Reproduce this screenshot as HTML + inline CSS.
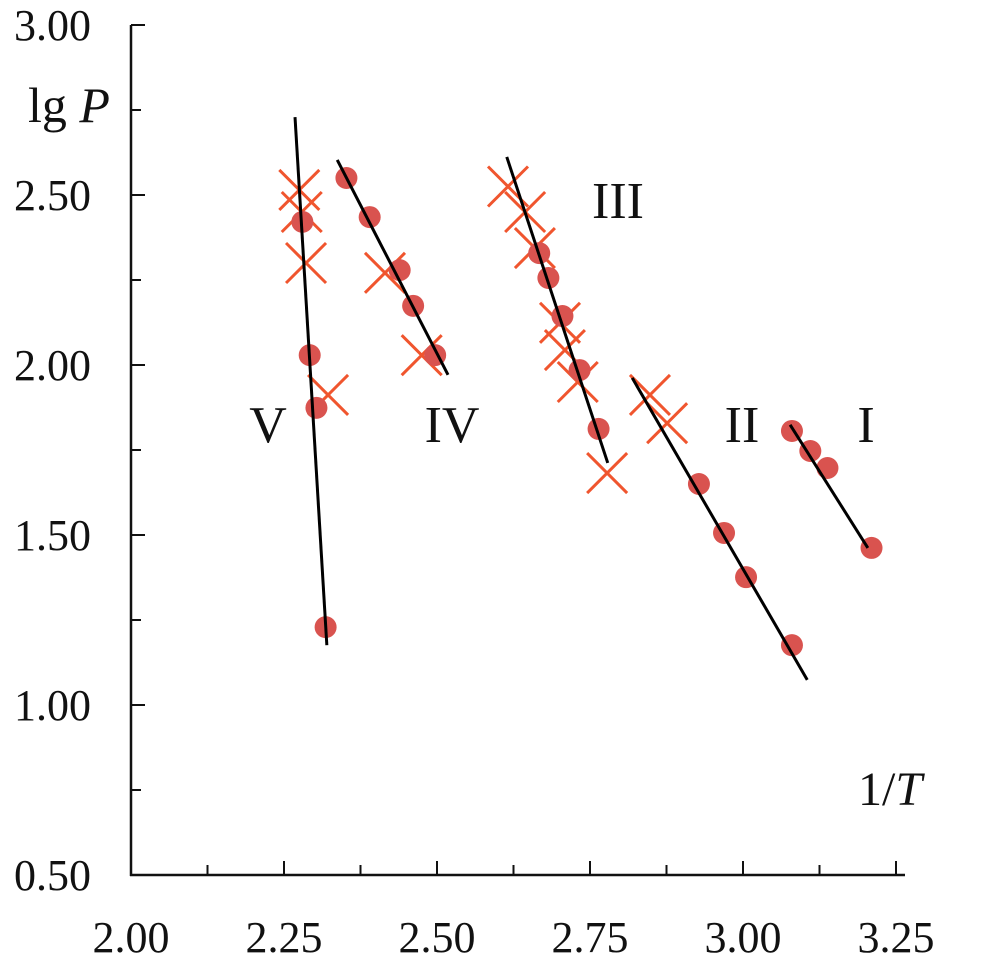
<!DOCTYPE html>
<html><head><meta charset="utf-8"><style>
html,body{margin:0;padding:0;background:#fff;}
svg text{font-family:"Liberation Serif",serif;fill:#111;}
</style></head><body>
<svg id="chart" width="987" height="963" viewBox="0 0 987 963" xmlns="http://www.w3.org/2000/svg"></svg>
<script>
const xTicks=[2.00,2.25,2.50,2.75,3.00,3.25];
const xTickLabels=["2.00","2.25","2.50","2.75","3.00","3.25"];
const yTicks=[0.5,1.0,1.5,2.0,2.5,3.0];
const yTickLabels=["0.50","1.00","1.50","2.00","2.50","3.00"];
const circleX=[2.352,2.390,2.439,2.461,2.497,2.280,2.292,2.303,2.318,2.667,2.682,2.705,2.733,2.764,2.928,2.969,3.005,3.080,3.080,3.110,3.138,3.210];
const circleY=[2.55,2.435,2.279,2.174,2.029,2.421,2.029,1.874,1.229,2.329,2.256,2.144,1.985,1.812,1.650,1.506,1.376,1.176,1.806,1.747,1.697,1.462];
const crossX=[2.275,2.279,2.286,2.322,2.415,2.475,2.616,2.644,2.660,2.701,2.709,2.730,2.778,2.848,2.876];
const crossY=[2.515,2.450,2.300,1.912,2.271,2.029,2.525,2.450,2.344,2.124,2.044,1.950,1.682,1.912,1.829];
const lineNames=["V","IV","III","II","I"];
const lineX1=[2.268,2.337,2.614,2.819,3.077];
const lineY1=[2.729,2.603,2.612,1.962,1.824];
const lineX2=[2.320,2.518,2.779,3.105,3.204];
const lineY2=[1.176,1.971,1.712,1.074,1.462];

const svg=document.getElementById('chart');
const NS='http://www.w3.org/2000/svg';
const X=v=>131+(v-2)*612;
const Y=v=>25+(3-v)*340;
function mk(tag,attrs,parent){const e=document.createElementNS(NS,tag);for(const k in attrs)e.setAttribute(k,attrs[k]);(parent||svg).appendChild(e);return e;}

let ax=mk('line',{x1:131,y1:25,x2:131,y2:876,stroke:'#111','stroke-width':2.5});


ax=mk('line',{x1:130,y1:875,x2:905,y2:875,stroke:'#111','stroke-width':2.5});



for(let v=2.0;v<=3.251;v+=0.125){
  const major=Math.abs((v/0.25)-Math.round(v/0.25))<1e-6;
  const t=mk('line',{x1:X(v),x2:X(v),y1:875,y2:875-(major?14:10),stroke:'#111','stroke-width':2});
  
  
}
for(let v=0.5;v<=3.001;v+=0.25){
  const major=Math.abs((v/0.5)-Math.round(v/0.5))<1e-6;
  const t=mk('line',{x1:131,x2:131+(major?14:10),y1:Y(v),y2:Y(v),stroke:'#111','stroke-width':2});
  
  
}
xTicks.forEach((v,i)=>{
  const t=mk('text',{x:X(v),y:952,'text-anchor':'middle','font-size':44});
  t.textContent=xTickLabels[i];
  
  
});
yTicks.forEach((v,i)=>{
  const t=mk('text',{x:91,y:Y(v)+15,'text-anchor':'end','font-size':44});
  t.textContent=yTickLabels[i];
  
  
});

crossX.forEach((v,i)=>{
  const cx=X(v),cy=Y(crossY[i]),s=20;
  const g=mk('g',{stroke:'#f0552e','stroke-width':3});
  
  
  mk('line',{x1:cx-s,y1:cy-s,x2:cx+s,y2:cy+s},g);
  mk('line',{x1:cx-s,y1:cy+s,x2:cx+s,y2:cy-s},g);
});
circleX.forEach((v,i)=>{
  const c=mk('circle',{cx:X(v),cy:Y(circleY[i]),r:11,fill:'#d9534f'});
  
  
});
lineNames.forEach((n,i)=>{
  const l=mk('line',{x1:X(lineX1[i]),y1:Y(lineY1[i]),x2:X(lineX2[i]),y2:Y(lineY2[i]),stroke:'#000','stroke-width':3});
  
  
});
const labs=[["V",268,442],["IV",452,442],["III",618,218],["II",742,442],["I",866,442]];
labs.forEach(a=>{
  const t=mk('text',{x:a[1],y:a[2],'text-anchor':'middle','font-size':52});
  t.textContent=a[0];
  
  
});
let t=mk('text',{x:28,y:122,'font-size':50});


t.innerHTML='lg <tspan font-style="italic">P</tspan>';
t=mk('text',{x:858,y:805,'font-size':48});


t.innerHTML='1/<tspan font-style="italic">T</tspan>';
</script>
</body></html>
